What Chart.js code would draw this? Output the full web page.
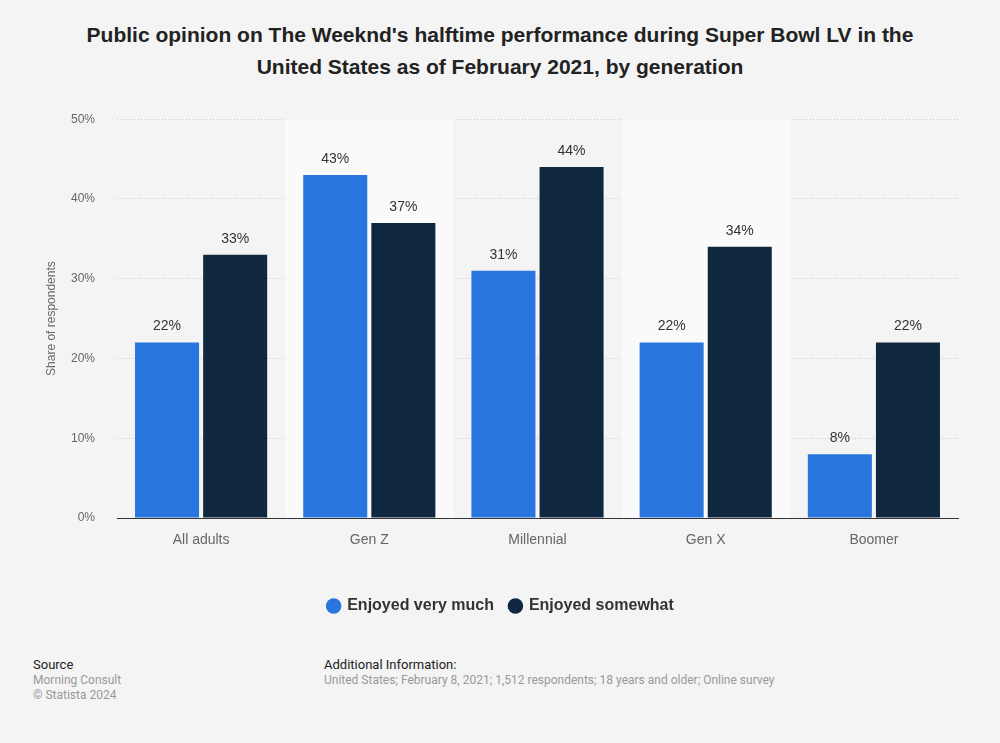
<!DOCTYPE html>
<html>
<head>
<meta charset="utf-8">
<script src="https://cdn.jsdelivr.net/npm/chart.js@4.4.0/dist/chart.umd.min.js"></script>
<style>
  html, body { margin: 0; padding: 0; background: #f4f4f4; }
  body { width: 1000px; height: 743px; position: relative; overflow: hidden; font-family: "Liberation Sans", Arial, sans-serif; }
  #title { position: absolute; top: 19px; left: 0; width: 1000px; text-align: center; font-size: 21px; font-weight: bold; line-height: 32px; color: #222; }
  #wrap { position: absolute; top: 90px; left: 0; width: 1000px; height: 551px; }
  .foot { position: absolute; top: 657px; font-family: Roboto, "Liberation Sans", sans-serif; font-size: 12px; line-height: 15px; color: #999; }
  .foot b { font-weight: normal; color: #222; font-size: 13px; display: block; margin-bottom: 1px; }
</style>
</head>
<body>
<div id="title">Public opinion on The Weeknd's halftime performance during Super Bowl LV in the<br>United States as of February 2021, by generation</div>
<div id="wrap"><canvas id="chart" width="1000" height="551"></canvas></div>
<div class="foot" style="left:33px"><b>Source</b>Morning Consult<br>© Statista 2024</div>
<div class="foot" style="left:324px"><b>Additional Information:</b>United States; February 8, 2021; 1,512 respondents; 18 years and older; Online survey</div>

<script>
const generations = ["All adults", "Gen Z", "Millennial", "Gen X", "Boomer"];
const enjoyedVeryMuch = [22, 43, 31, 22, 8];
const enjoyedSomewhat = [33, 37, 44, 34, 22];
const yTicks = [0, 10, 20, 30, 40, 50];
const shadedColumns = [1, 3];

const bandPlugin = {
  id: "bands",
  beforeDatasetsDraw(chart) {
    const { ctx, chartArea, scales } = chart;
    const x = scales.x;
    const step = (chartArea.right - chartArea.left) / generations.length;
    ctx.save();
    ctx.fillStyle = "#fafafa";
    shadedColumns.forEach((i) => {
      const cx = x.getPixelForValue(i);
      ctx.fillRect(cx - step / 2, chartArea.top, step, chartArea.bottom - chartArea.top);
    });
    ctx.restore();
  }
};

const labelPlugin = {
  id: "valueLabels",
  afterDatasetsDraw(chart) {
    const { ctx } = chart;
    ctx.save();
    ctx.font = "14px 'Liberation Sans', Arial, sans-serif";
    ctx.fillStyle = "#333";
    ctx.textAlign = "center";
    ctx.textBaseline = "bottom";
    chart.data.datasets.forEach((ds, di) => {
      chart.getDatasetMeta(di).data.forEach((bar, i) => {
        ctx.fillText(ds.data[i] + "%", bar.x, bar.y - 9);
      });
    });
    ctx.restore();
  }
};

const chart = new Chart(document.getElementById("chart"), {
  type: "bar",
  data: {
    labels: generations,
    datasets: [
      { label: "Enjoyed very much", data: enjoyedVeryMuch, backgroundColor: "#2876dd" },
      { label: "Enjoyed somewhat", data: enjoyedSomewhat, backgroundColor: "#10283f" }
    ]
  },
  options: {
    responsive: false,
    animation: false,
    categoryPercentage: 0.81,
    barPercentage: 0.94,
    layout: { padding: { left: 44, right: 42, top: 8, bottom: 17 } },
    plugins: {
      legend: {
        position: "bottom",
        labels: {
          usePointStyle: true,
          pointStyle: "circle",
          boxWidth: 11,
          boxHeight: 11,
          padding: 16,
          color: "#333",
          font: { family: "'Liberation Sans', Arial, sans-serif", size: 16, weight: "bold" }
        }
      },
      tooltip: { enabled: false }
    },
    scales: {
      x: {
        grid: { display: false, drawTicks: false },
        border: { display: true, color: "#333", width: 1 },
        ticks: { color: "#666", padding: 14, font: { family: "'Liberation Sans', Arial, sans-serif", size: 14 } },
        afterFit(s) { s.height = 64; }
      },
      y: {
        min: 0,
        max: 50,
        afterBuildTicks(s) { s.ticks = yTicks.map((v) => ({ value: v })); },
        border: { display: false, dash: [1, 2] },
        grid: { color: "#c8c8c8", lineWidth: 1, drawTicks: false, tickLength: 0 },
        ticks: {
          color: "#666",
          padding: 22,
          font: { family: "'Liberation Sans', Arial, sans-serif", size: 12 },
          callback: (v) => v + "%"
        },
        title: {
          display: true,
          text: "Share of respondents",
          color: "#666",
          font: { family: "'Liberation Sans', Arial, sans-serif", size: 12 },
          padding: { top: 0, bottom: 0 }
        },
        afterFit(s) { s.width = 73; }
      }
    }
  },
  plugins: [bandPlugin, labelPlugin]
});
</script>
</body>
</html>
